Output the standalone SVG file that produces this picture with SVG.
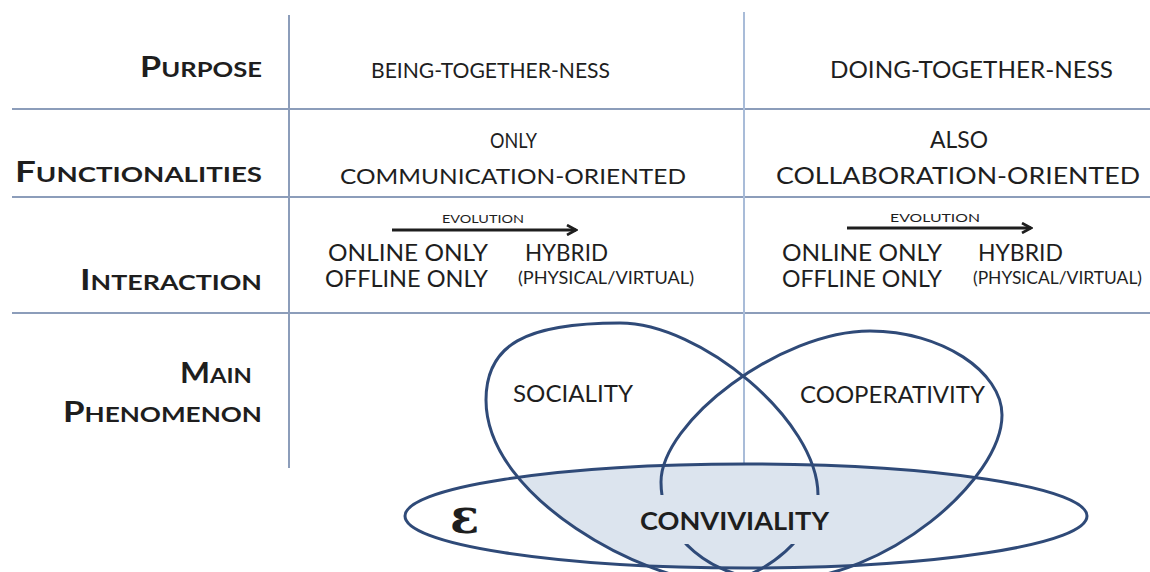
<svg xmlns="http://www.w3.org/2000/svg" width="1150" height="572" viewBox="0 0 1150 572">
  <style>
    text { font-family: Lato, "Open Sans", "Liberation Sans", sans-serif; fill: #1e1e1e; }
    .lab { font-weight: 700; font-size: 21px; }
    .lab .cap { font-size: 28px; }
    .cell { font-size: 21px; }
    .cell2 { font-size: 23px; }
    .evo { font-size: 11px; }
    .sub { font-size: 17px; }
    .grid { stroke: #8c9dba; stroke-width: 2; fill: none; }
    .grid2 { stroke: #a9bcd8; stroke-width: 2; fill: none; }
    .ring { fill: none; stroke: #2f4a78; stroke-width: 3; }
    .arrow { stroke: #1e1e1e; stroke-width: 3; fill: none; }
  </style>
  <defs>
    <marker id="head" viewBox="0 0 12 12" refX="10" refY="6" markerWidth="12" markerHeight="12" markerUnits="userSpaceOnUse" orient="auto">
      <path d="M1,1 L10,6 L1,11" fill="none" stroke="#1e1e1e" stroke-width="2.6"/>
    </marker>
    <ellipse id="convEllipse" cx="746" cy="516" rx="341" ry="52"/>
    <path id="socShape" d="M486,400 C486,345 525,323 620,323 C700,323 818,420 818,495 C818,530 765,582 715,582 C650,582 486,500 486,400 Z"/>
    <path id="coopShape" d="M870,331 C942,331 1002,372 1002,415 C1002,480 885,580 780,580 C710,580 661,537 661,482 C661,422 780,331 870,331 Z"/>
    <clipPath id="convClip">
      <use href="#convEllipse"/>
    </clipPath>
    <!-- keeps the inner arcs clear of the CONVIVIALITY label -->
    <mask id="labelGap" maskUnits="userSpaceOnUse" x="0" y="0" width="1150" height="572">
      <rect x="0" y="0" width="1150" height="572" fill="#fff"/>
      <rect x="640" y="495" width="200" height="49" fill="#000"/>
    </mask>
  </defs>

  <rect width="1150" height="572" fill="#ffffff"/>

  <!-- table rules -->
  <g id="grid">
    <line class="grid" x1="12" y1="109" x2="1150" y2="109"/>
    <line class="grid" x1="12" y1="197" x2="1150" y2="197"/>
    <line class="grid" x1="12" y1="313" x2="1150" y2="313"/>
    <line class="grid" x1="289" y1="15" x2="289" y2="468"/>
    <line class="grid2" x1="744" y1="12" x2="744" y2="463"/>
  </g>

  <!-- row headings -->
  <g id="row-purpose">
    <text class="lab" x="140" y="77" textLength="122" lengthAdjust="spacingAndGlyphs"><tspan class="cap">P</tspan>URPOSE</text>
  </g>
  <g id="row-functionalities">
    <text class="lab" x="15" y="182" textLength="247" lengthAdjust="spacingAndGlyphs"><tspan class="cap">F</tspan>UNCTIONALITIES</text>
  </g>
  <g id="row-interaction">
    <text class="lab" x="80" y="290" textLength="182" lengthAdjust="spacingAndGlyphs"><tspan class="cap">I</tspan>NTERACTION</text>
  </g>
  <g id="row-phenomenon">
    <text class="lab" x="180" y="383" textLength="72" lengthAdjust="spacingAndGlyphs"><tspan class="cap">M</tspan>AIN</text>
    <text class="lab" x="63" y="422" textLength="199" lengthAdjust="spacingAndGlyphs"><tspan class="cap">P</tspan>HENOMENON</text>
  </g>

  <!-- purpose cells -->
  <g id="purpose-being">
    <text class="cell" x="371" y="78" textLength="239" lengthAdjust="spacingAndGlyphs">BEING-TOGETHER-NESS</text>
  </g>
  <g id="purpose-doing">
    <text class="cell" x="830" y="78" textLength="283" lengthAdjust="spacingAndGlyphs" style="font-size:23px">DOING-TOGETHER-NESS</text>
  </g>

  <!-- functionality cells -->
  <g id="func-communication">
    <text class="cell" x="490" y="148" textLength="47" lengthAdjust="spacingAndGlyphs" style="font-size:22px">ONLY</text>
    <text class="cell" x="340" y="184" textLength="346" lengthAdjust="spacingAndGlyphs" style="font-size:22px">COMMUNICATION-ORIENTED</text>
  </g>
  <g id="func-collaboration">
    <text class="cell2" x="930" y="148" textLength="58" lengthAdjust="spacingAndGlyphs">ALSO</text>
    <text class="cell2" x="776" y="184" textLength="364" lengthAdjust="spacingAndGlyphs">COLLABORATION-ORIENTED</text>
  </g>

  <!-- interaction cells -->
  <g id="interaction-left">
    <text class="evo" x="442" y="223" textLength="82" lengthAdjust="spacingAndGlyphs">EVOLUTION</text>
    <text class="cell2" x="328" y="261" textLength="160" lengthAdjust="spacingAndGlyphs">ONLINE ONLY</text>
    <text class="cell2" x="325" y="287" textLength="163" lengthAdjust="spacingAndGlyphs">OFFLINE ONLY</text>
    <text class="cell2" x="525" y="261" textLength="83" lengthAdjust="spacingAndGlyphs">HYBRID</text>
    <text class="sub" x="518" y="284" textLength="176" lengthAdjust="spacingAndGlyphs">(PHYSICAL/VIRTUAL)</text>
  </g>
  <g id="interaction-right">
    <text class="evo" x="890" y="222" textLength="90" lengthAdjust="spacingAndGlyphs">EVOLUTION</text>
    <text class="cell2" x="782" y="261" textLength="160" lengthAdjust="spacingAndGlyphs">ONLINE ONLY</text>
    <text class="cell2" x="782" y="287" textLength="160" lengthAdjust="spacingAndGlyphs">OFFLINE ONLY</text>
    <text class="cell2" x="978" y="261" textLength="85" lengthAdjust="spacingAndGlyphs">HYBRID</text>
    <text class="sub" x="973" y="284" textLength="169" lengthAdjust="spacingAndGlyphs">(PHYSICAL/VIRTUAL)</text>
  </g>

  <!-- evolution arrows -->
  <g id="connectors">
    <line class="arrow" x1="392" y1="230" x2="576" y2="230" marker-end="url(#head)"/>
    <line class="arrow" x1="847" y1="228" x2="1031" y2="228" marker-end="url(#head)"/>
  </g>

  <!-- phenomenon sets -->
  <g id="conviviality-fill" clip-path="url(#convClip)">
    <use href="#socShape" fill="#dce4ee"/>
    <use href="#coopShape" fill="#dce4ee"/>
  </g>
  <g id="sociality">
    <use href="#socShape" class="ring" mask="url(#labelGap)"/>
    <text class="cell2" x="513" y="402" textLength="120" lengthAdjust="spacingAndGlyphs">SOCIALITY</text>
  </g>
  <g id="cooperativity">
    <use href="#coopShape" class="ring" mask="url(#labelGap)"/>
    <text class="cell2" x="800" y="403" textLength="185" lengthAdjust="spacingAndGlyphs">COOPERATIVITY</text>
  </g>
  <g id="conviviality">
    <use href="#convEllipse" class="ring"/>
    <text x="450" y="533" style="font-family:'DejaVu Serif','Liberation Serif',serif;font-weight:700;font-size:48px">ε</text>
    <text x="640" y="530" textLength="189" lengthAdjust="spacingAndGlyphs" style="font-weight:700;font-size:25px">CONVIVIALITY</text>
  </g>
</svg>
